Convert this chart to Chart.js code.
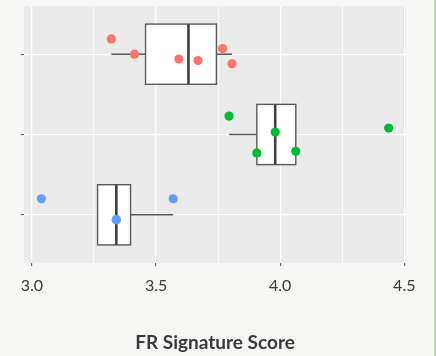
<!DOCTYPE html>
<html>
<head>
<meta charset="utf-8">
<script src="https://cdn.jsdelivr.net/npm/chart.js@4.4.1/dist/chart.umd.min.js"></script>
<style>
	html, body { margin: 0; padding: 0; }
	body {
		width: 436px;
		height: 356px;
		background: #f6f7f4;
		overflow: hidden;
	}
	#wrap {
		position: relative;
		width: 434px;
		height: 356px;
		border-right: 2px solid #c9d9b4;
	}
</style>
</head>
<body>
<div id="wrap"><canvas id="chart" width="434" height="356"></canvas></div>
<script>
// groups from bottom to top (y position 1, 2, 3)
const groups = ['C', 'B', 'A'];
const colors = ['#619CFF', '#00BA38', '#F8766D'];

// FR signature score per sample
const scoresC = [3.038, 3.340, 3.340, 3.569];
const scoresB = [3.794, 3.906, 3.980, 4.063, 4.437];
const scoresA = [3.320, 3.413, 3.592, 3.669, 3.768, 3.806];

// vertical jitter of each point (in group units)
const jitterC = [0.20, -0.06, -0.06, 0.20];
const jitterB = [0.23, -0.23, 0.03, -0.21, 0.08];
const jitterA = [0.19, 0.00, -0.06, -0.08, 0.07, -0.12];

const xTicks = [3.0, 3.25, 3.5, 3.75, 4.0, 4.25, 4.5];
const xLabels = ['3.0', '', '3.5', '', '4.0', '', '4.5'];

const allScores = [scoresC, scoresB, scoresA];
const allJitter = [jitterC, jitterB, jitterA];

// quantile, type 7 like R
function quantile( arr, p ) {
	const s = arr.slice().sort( ( a, b ) => a - b );
	const h = ( s.length - 1 ) * p;
	const lo = Math.floor( h );
	const hi = Math.ceil( h );
	return s[lo] + ( h - lo ) * ( s[hi] - s[lo] );
}

function boxStats( arr ) {
	const q1 = quantile( arr, 0.25 );
	const med = quantile( arr, 0.5 );
	const q3 = quantile( arr, 0.75 );
	const iqr = q3 - q1;
	const inside = arr.filter( v => v >= q1 - 1.5 * iqr && v <= q3 + 1.5 * iqr );
	return {
		q1, med, q3,
		lo: Math.min( ...inside ),
		hi: Math.max( ...inside )
	};
}

const stats = allScores.map( boxStats );

// x limits with 5% expansion like ggplot
const flat = allScores.flat();
const dMin = Math.min( ...flat );
const dMax = Math.max( ...flat );
const xMin = dMin - ( dMax - dMin ) * 0.05;
const xMax = dMax + ( dMax - dMin ) * 0.05;

const datasets = allScores.map( function ( scores, g ) {
	return {
		label: groups[g],
		data: scores.map( ( v, i ) => ( { x: v, y: g + 1 + allJitter[g][i] } ) ),
		backgroundColor: colors[g],
		borderWidth: 0,
		pointRadius: 4.6,
		pointHoverRadius: 4.6
	};
} );

// panel background and boxplots, drawn under the points
const boxPlugin = {
	id: 'boxPlugin',
	beforeDraw: function ( chart ) {
		const a = chart.chartArea;
		const ctx = chart.ctx;
		ctx.save();
		ctx.fillStyle = '#ebebeb';
		ctx.fillRect( a.left, a.top, a.right - a.left, a.bottom - a.top );
		ctx.restore();
	},
	beforeDatasetsDraw: function ( chart ) {
		const xs = chart.scales.x;
		const ys = chart.scales.y;
		const ctx = chart.ctx;
		ctx.save();
		stats.forEach( function ( s, g ) {
			const yc = ys.getPixelForValue( g + 1 );
			const yTop = ys.getPixelForValue( g + 1 + 0.375 );
			const yBot = ys.getPixelForValue( g + 1 - 0.375 );
			const x1 = xs.getPixelForValue( s.q1 );
			const x3 = xs.getPixelForValue( s.q3 );

			// whiskers
			ctx.strokeStyle = '#595959';
			ctx.lineWidth = 1.4;
			ctx.beginPath();
			ctx.moveTo( xs.getPixelForValue( s.lo ), yc );
			ctx.lineTo( x1, yc );
			ctx.moveTo( x3, yc );
			ctx.lineTo( xs.getPixelForValue( s.hi ), yc );
			ctx.stroke();

			// box
			ctx.fillStyle = '#ffffff';
			ctx.fillRect( x1, yTop, x3 - x1, yBot - yTop );
			ctx.strokeRect( x1, yTop, x3 - x1, yBot - yTop );

			// median
			const xm = xs.getPixelForValue( s.med );
			ctx.strokeStyle = '#404040';
			ctx.lineWidth = 2.6;
			ctx.beginPath();
			ctx.moveTo( xm, yTop );
			ctx.lineTo( xm, yBot );
			ctx.stroke();
		} );
		ctx.restore();
	}
};

Chart.defaults.font.family = "Lato, 'Open Sans', sans-serif";
Chart.defaults.color = '#3a3a3a';

new Chart( document.getElementById( 'chart' ).getContext( '2d' ), {
	type: 'scatter',
	data: { datasets },
	options: {
		responsive: false,
		animation: false,
		events: [],
		layout: {
			padding: { left: 21, right: 28, top: 6, bottom: 2 }
		},
		plugins: {
			legend: { display: false },
			tooltip: { enabled: false }
		},
		scales: {
			x: {
				type: 'linear',
				min: xMin,
				max: xMax,
				afterBuildTicks: function ( axis ) {
					axis.ticks = xTicks.map( v => ( { value: v } ) );
				},
				border: { display: false },
				grid: {
					color: '#ffffff',
					lineWidth: ctx => ( ctx.index % 2 === 0 ? 1.3 : 0.8 ),
					tickColor: ctx => ( ctx.index % 2 === 0 ? '#4d4d4d' : 'rgba(0,0,0,0)' ),
					tickLength: 3,
					tickWidth: 1
				},
				ticks: {
					callback: ( v, i ) => xLabels[i],
					font: { size: 16 },
					color: '#3a3a3a',
					padding: 10,
					maxRotation: 0,
					autoSkip: false
				},
				title: {
					display: true,
					text: 'FR Signature Score',
					font: { size: 19, weight: 'bold' },
					color: '#3a3a3a',
					padding: { top: 26, bottom: 0 }
				}
			},
			y: {
				type: 'linear',
				min: 0.4,
				max: 3.6,
				afterBuildTicks: function ( axis ) {
					axis.ticks = [1, 2, 3].map( v => ( { value: v } ) );
				},
				border: { display: false },
				grid: {
					color: '#ffffff',
					lineWidth: 1.3,
					tickColor: '#4d4d4d',
					tickLength: 3,
					tickWidth: 1
				},
				ticks: { display: false }
			}
		}
	},
	plugins: [boxPlugin]
} );
</script>
</body>
</html>
